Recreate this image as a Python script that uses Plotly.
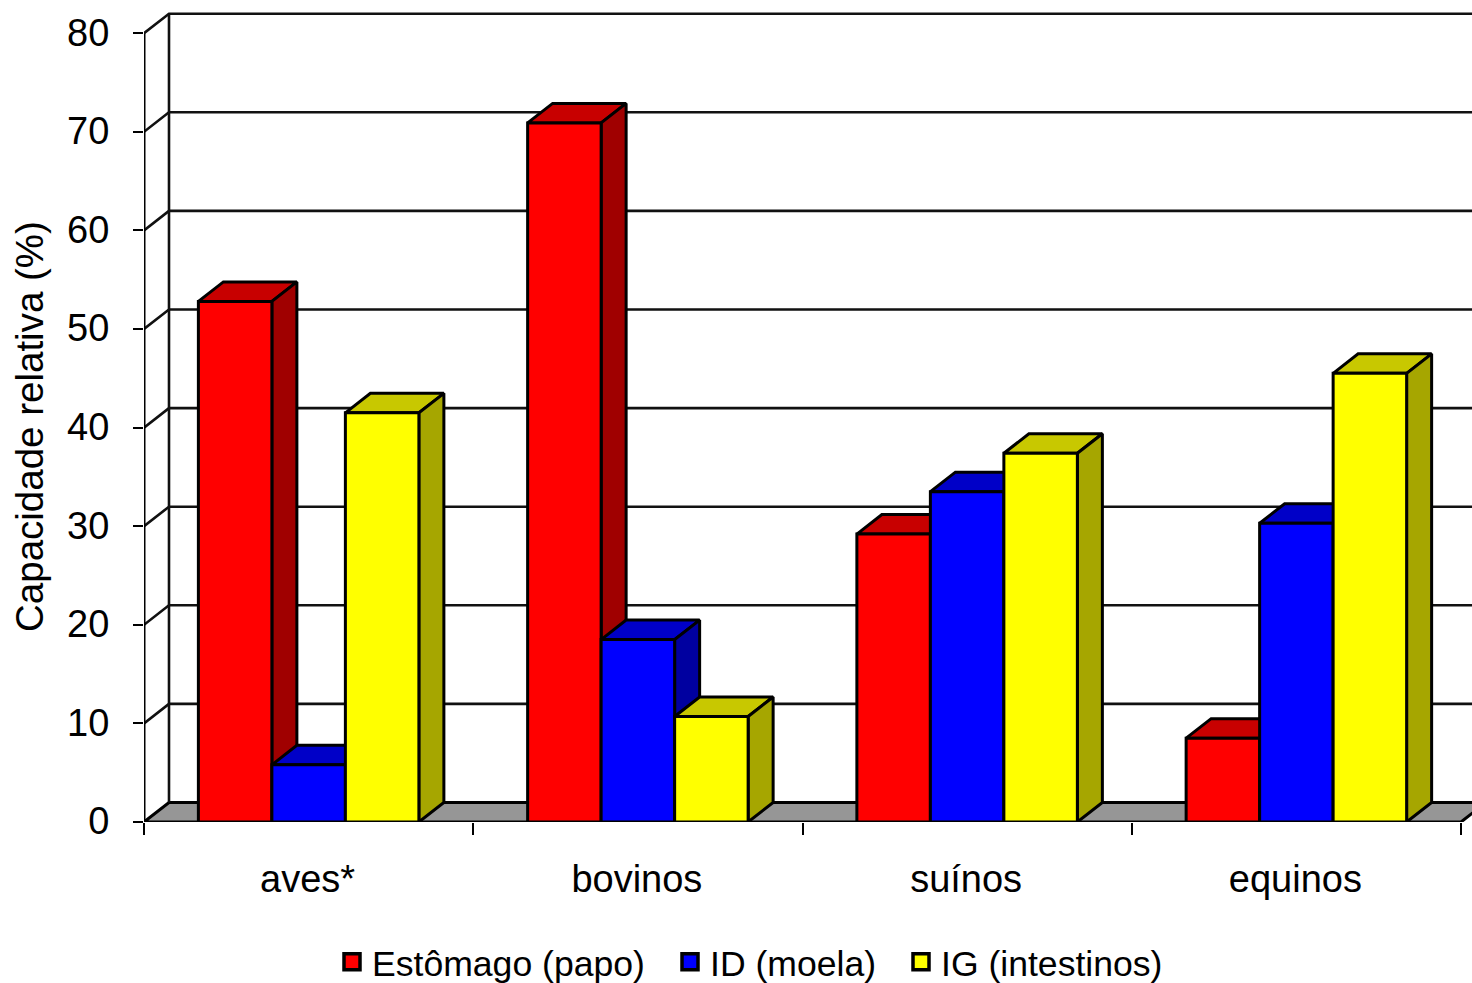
import plotly.graph_objects as go

# Chart data
categories = ["aves*", "bovinos", "suínos", "equinos"]
series_names = ["Estômago (papo)", "ID (moela)", "IG (intestinos)"]
estomago = [52.8, 70.9, 29.2, 8.5]
id_moela = [5.8, 18.5, 33.5, 30.3]
ig = [41.5, 10.7, 37.4, 45.5]
y_ticks = [0, 10, 20, 30, 40, 50, 60, 70, 80]

# Colours per series: front, side and top faces of a box
front_colors = ["#FF0000", "#0000FF", "#FFFF00"]
side_colors = ["#A00000", "#0000A0", "#A6A600"]
top_colors = ["#C80000", "#0000C8", "#C8C800"]

# Oblique projection of the depth axis, in axis units
DEPTH_X = 25 / 329.25
DEPTH_Y = 19.5 / 9.86
BAR_W = 73.5 / 329.25
LINE = dict(color="#000000", width=3)
GRID = dict(color="#111111", width=2.6)
FONT = "Liberation Sans, Arial, sans-serif"
X_MAX = 1328 / 329.25
Y_MAX = 822 / 9.86

fig = go.Figure()


def polygon(xs, ys, fill):
    fig.add_trace(go.Scatter(
        x=xs + xs[:1], y=ys + ys[:1], mode="lines", fill="toself", fillcolor=fill,
        line=LINE, showlegend=False, hoverinfo="skip", cliponaxis=False,
    ))


def polyline(xs, ys, line, clip=True):
    fig.add_trace(go.Scatter(
        x=xs, y=ys, mode="lines", line=line, showlegend=False, hoverinfo="skip", cliponaxis=clip,
    ))


# Floor of the 3D box
n = len(categories)
polygon([0, DEPTH_X, n + DEPTH_X, n], [0, DEPTH_Y, DEPTH_Y, 0], "#969696")

# Gridlines on the back and left walls
for v in y_ticks[1:]:
    polyline([0, DEPTH_X, X_MAX], [v, v + DEPTH_Y, v + DEPTH_Y], GRID)
polyline([DEPTH_X, DEPTH_X], [DEPTH_Y, y_ticks[-1] + DEPTH_Y], GRID)
polyline([0, 0], [0, y_ticks[-1]], LINE, clip=False)

# Boxes painted from left to right so each one hides what lies behind it
for i in range(n):
    for j, values in enumerate([estomago, id_moela, ig]):
        v = values[i]
        x0 = i + 0.5 + (j - 1.5) * BAR_W
        x1 = x0 + BAR_W
        polygon([x0, x0 + DEPTH_X, x1 + DEPTH_X, x1], [v, v + DEPTH_Y, v + DEPTH_Y, v], top_colors[j])
        polygon([x1, x1 + DEPTH_X, x1 + DEPTH_X, x1], [0, DEPTH_Y, v + DEPTH_Y, v], side_colors[j])
        polygon([x0, x1, x1, x0], [0, 0, v, v], front_colors[j])

# Separate one-entry legends so each swatch sits at its own position
legend_ids = ["legend", "legend2", "legend3"]
legend_left = [332, 670, 901]
legend_cfg = {}
for name, color, lid, left in zip(series_names, front_colors, legend_ids, legend_left):
    fig.add_trace(go.Scatter(
        x=[None], y=[None], mode="markers", name=name, legend=lid,
        marker=dict(symbol="square", size=16, color=color, line=dict(color="#000000", width=3.5)),
    ))
    legend_cfg[lid] = dict(
        x=(left - 144) / 1328, y=(822 - 962) / 822, xanchor="left", yanchor="middle",
        font=dict(family=FONT, size=35.6, color="#000000"), bgcolor="rgba(0,0,0,0)",
        itemsizing="trace", itemwidth=30,
    )

fig.update_layout(
    width=1472, height=983,
    margin=dict(l=144, r=0, t=0, b=161, autoexpand=False),
    paper_bgcolor="#FFFFFF", plot_bgcolor="#FFFFFF",
    font=dict(family=FONT, size=38, color="#000000"),
    showlegend=True,
    xaxis=dict(
        range=[0, X_MAX], showgrid=False, zeroline=False, showline=False,
        tickmode="array", tickvals=[i + 0.5 for i in range(n)], ticktext=categories,
        ticks="", ticklabelstandoff=31, ticklabelshift=-1,
        tickfont=dict(family=FONT, size=38),
        minor=dict(tickmode="array", tickvals=list(range(n + 1)), ticks="outside",
                   ticklen=12, tickwidth=1.5, tickcolor="#000000", showgrid=False),
    ),
    yaxis=dict(
        range=[0, Y_MAX], showgrid=False, zeroline=False, showline=False,
        tickmode="array", tickvals=y_ticks, ticks="outside", ticklen=10,
        tickwidth=1.5, tickcolor="#000000", ticklabelstandoff=16, ticklabelshift=-1,
        tickfont=dict(family=FONT, size=38),
    ),
    annotations=[dict(
        text="Capacidade relativa (%)", textangle=-90, showarrow=False,
        xref="paper", yref="paper", x=0, y=(822 - 427) / 822,
        xshift=-115, xanchor="center", yanchor="middle",
        font=dict(family=FONT, size=38.5, color="#000000"),
    )],
    **legend_cfg,
)

fig.write_html("out.html")
